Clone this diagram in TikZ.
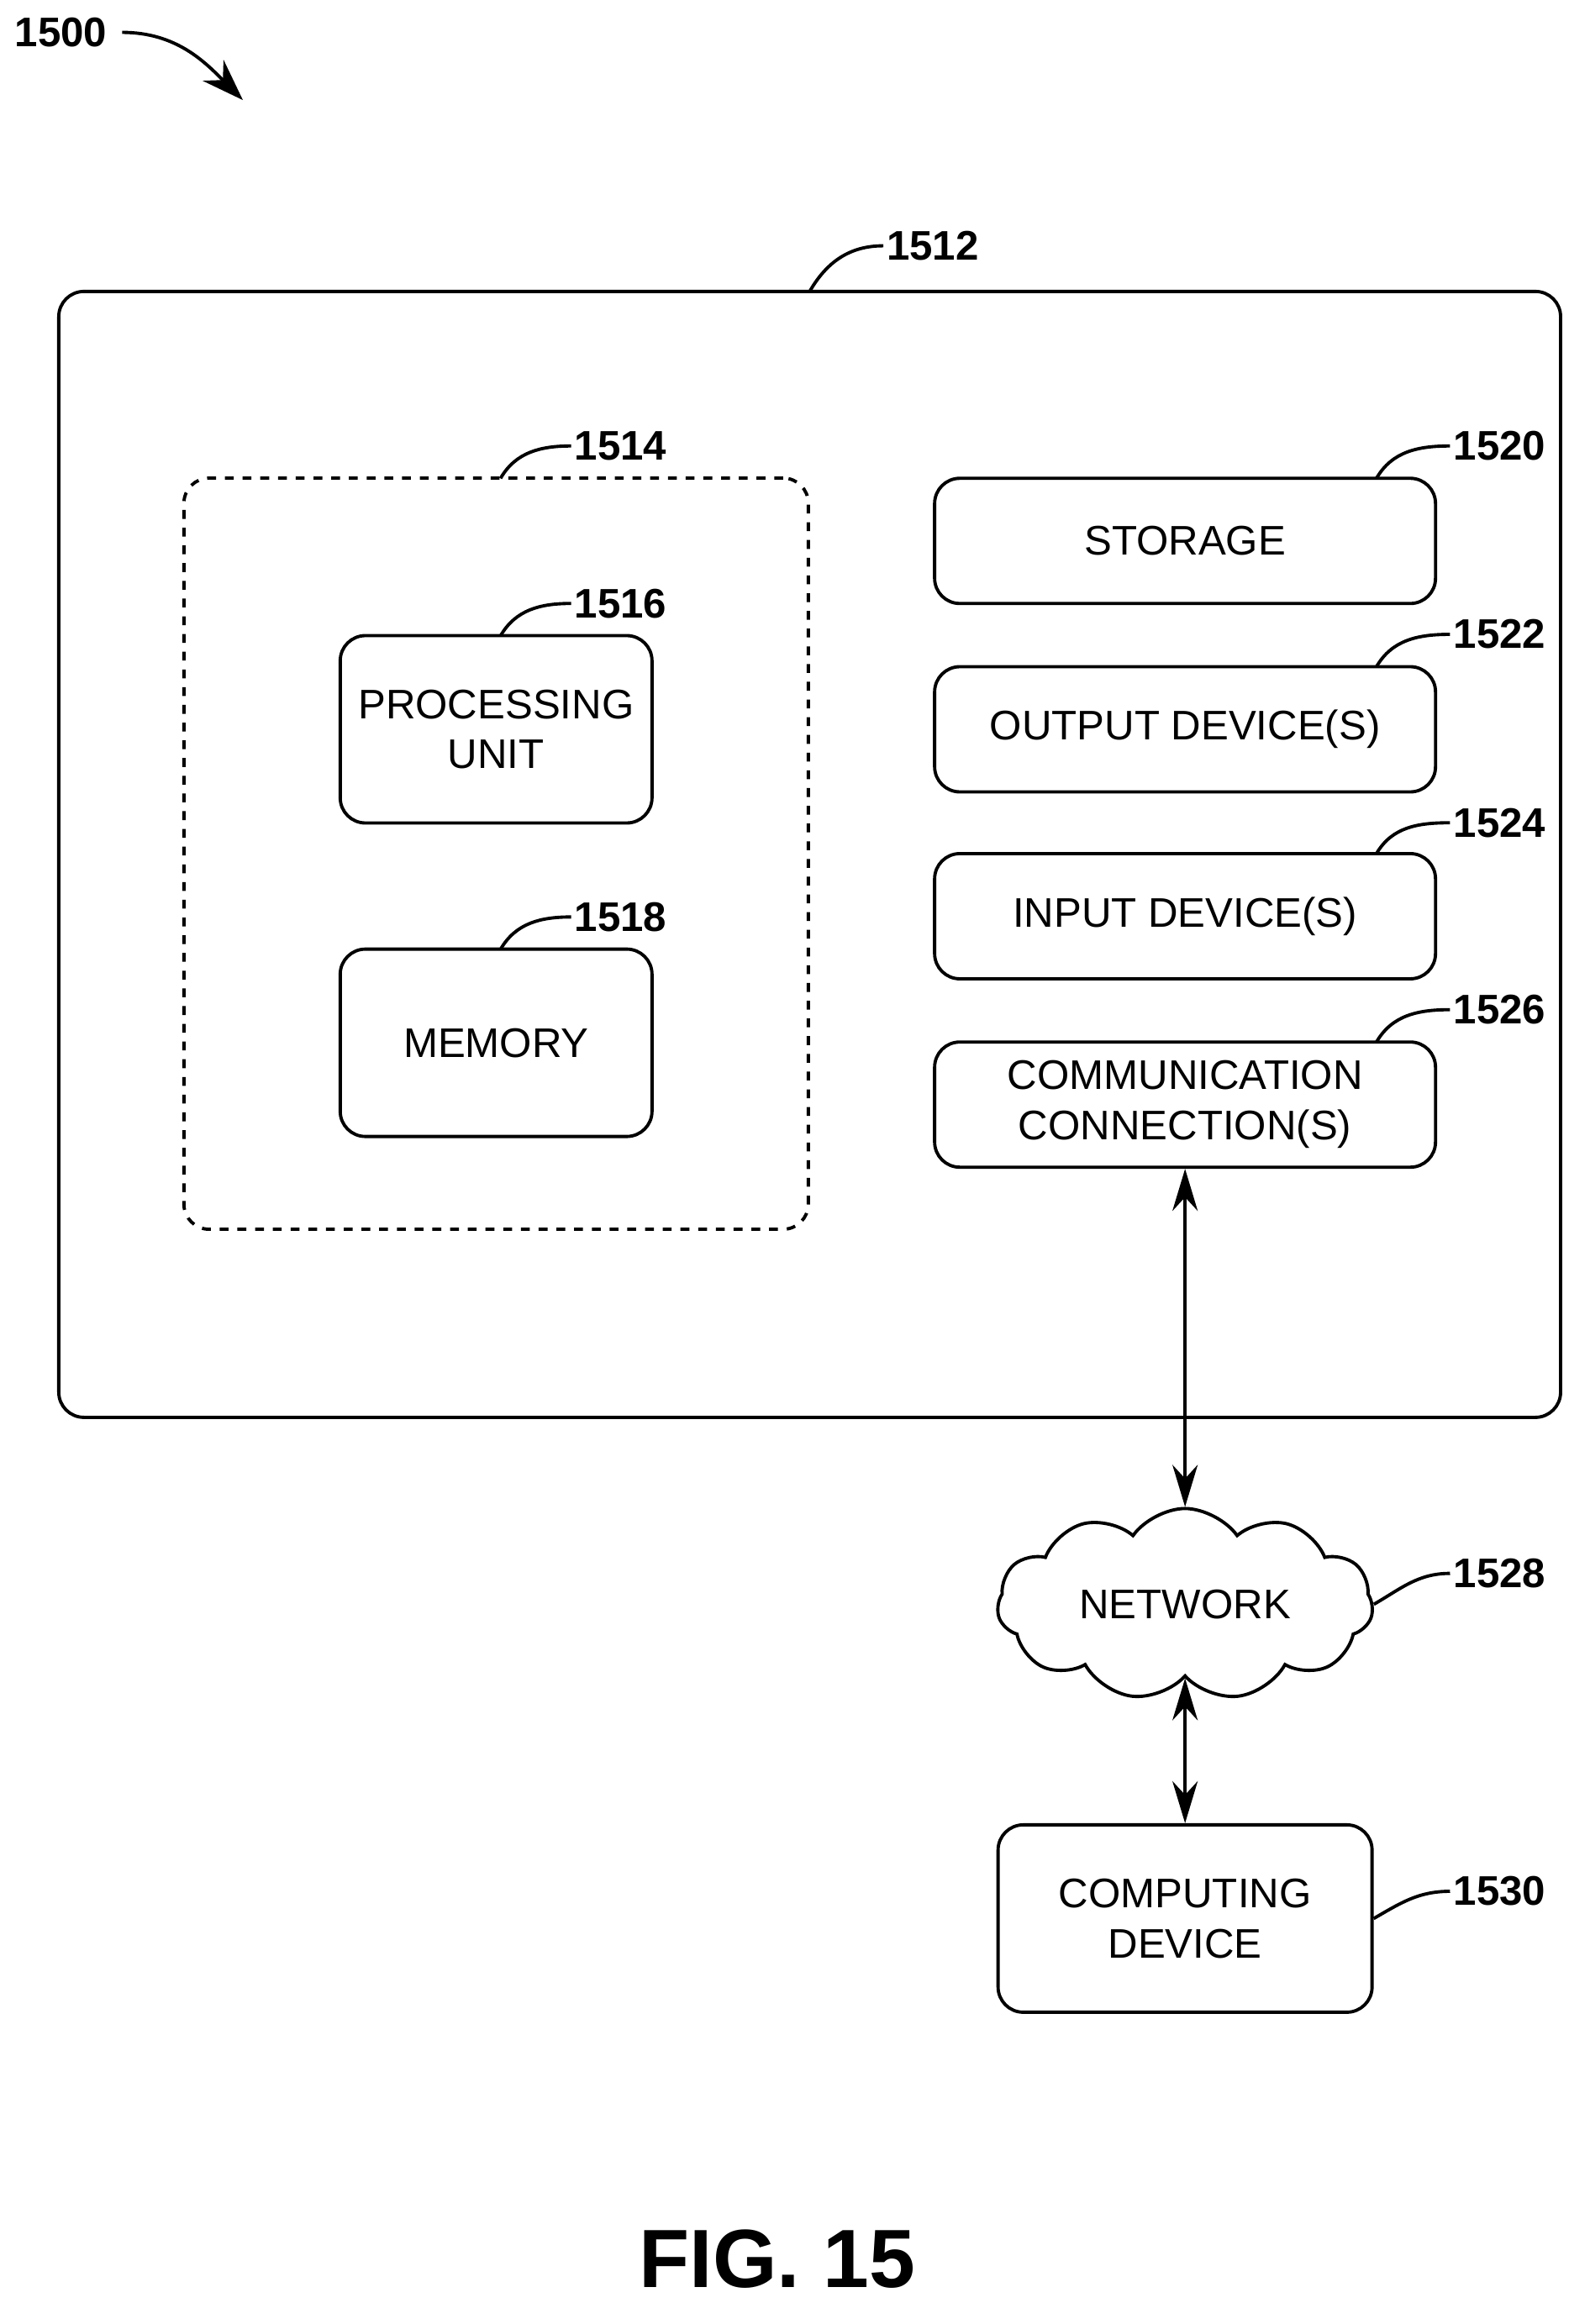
\documentclass[tikz,border=0pt]{standalone}
\usepackage{fontspec}
\setmainfont{Liberation Sans}
\usetikzlibrary{shapes.symbols,arrows.meta,calc}
\tikzset{
    box/.style={draw, rounded corners=0.3cm, line width=1.1pt, align=center, font=\fontsize{14}{17}\selectfont},
    ref/.style={anchor=west, font=\bfseries\fontsize{14}{17}\selectfont, inner sep=1pt},
    lead/.style={line width=1.1pt, out=60, in=180},
    link/.style={line width=1.1pt, {Stealth[length=0.5cm,width=0.3cm]}-{Stealth[length=0.5cm,width=0.3cm]}}
}
\begin{document}
\begin{tikzpicture}[x=0.01752cm, y=-0.01752cm]
    \useasboundingbox (0,0) rectangle (1080,1579);
    % Frames
    \node[box, minimum width=17.87cm, minimum height=13.40cm] (comp) at (550,580.5) {};
    \node[box, dashed, minimum width=7.43cm, minimum height=8.94cm] (core) at (337,580) {};
    % Inner units
    \node[box, minimum width=3.71cm, minimum height=2.23cm] (proc) at (337,495.5) {PROCESSING\\UNIT};
    \node[box, minimum width=3.71cm, minimum height=2.23cm] (mem) at (337,708.5) {MEMORY};
    \node[box, minimum width=5.96cm, minimum height=1.49cm] (stor) at (805,367.5) {STORAGE};
    \node[box, minimum width=5.96cm, minimum height=1.49cm] (outd) at (805,495.5) {OUTPUT DEVICE(S)};
    \node[box, minimum width=5.96cm, minimum height=1.49cm] (ind) at (805,622.5) {INPUT DEVICE(S)};
    \node[box, minimum width=5.96cm, minimum height=1.49cm] (conn) at (805,750.5) {COMMUNICATION\\CONNECTION(S)};
    % Outside
    \node[box, cloud, cloud puffs=11, cloud puff arc=110, aspect=2.2, rounded corners=0pt, minimum width=4.47cm, minimum height=2.28cm, inner sep=0pt] (net) at (805,1090) {NETWORK};
    \node[box, minimum width=4.45cm, minimum height=2.23cm] (dev) at (805,1303.5) {COMPUTING\\DEVICE};
    \draw[link] (conn.south) -- (net.north);
    \draw[link] (net.south) -- (dev.north);
    % Reference numerals
    \node[ref, anchor=east] (l1500) at (75,22) {1500};
    \node[ref] (l1512) at (600,167) {1512};
    \node[ref] (l1514) at (388,303) {1514};
    \node[ref] (l1516) at (388,410) {1516};
    \node[ref] (l1518) at (388,623) {1518};
    \node[ref] (l1520) at (985,303) {1520};
    \node[ref] (l1522) at (985,431) {1522};
    \node[ref] (l1524) at (985,559) {1524};
    \node[ref] (l1526) at (985,686) {1526};
    \node[ref] (l1528) at (985,1069) {1528};
    \node[ref] (l1530) at (985,1285) {1530};
    \draw[line width=1.1pt, -{Stealth[length=0.5cm,width=0.35cm]}] ($(l1500.east)+(8,0)$) to[out=0, in=135] (165,68);
    \draw[lead] (550,198) to (l1512.west);
    \draw[lead] (340,325) to (l1514.west);
    \draw[lead] (340,432) to (l1516.west);
    \draw[lead] (340,645) to (l1518.west);
    \draw[lead] (935,325) to (l1520.west);
    \draw[lead] (935,453) to (l1522.west);
    \draw[lead] (935,580) to (l1524.west);
    \draw[lead] (935,708) to (l1526.west);
    \draw[lead, out=30] (net.east) to (l1528.west);
    \draw[lead, out=30] (dev.east) to (l1530.west);
    \node[font=\bfseries\fontsize{28}{32}\selectfont] (fig) at (528,1535) {FIG. 15};
\end{tikzpicture}
\end{document}
